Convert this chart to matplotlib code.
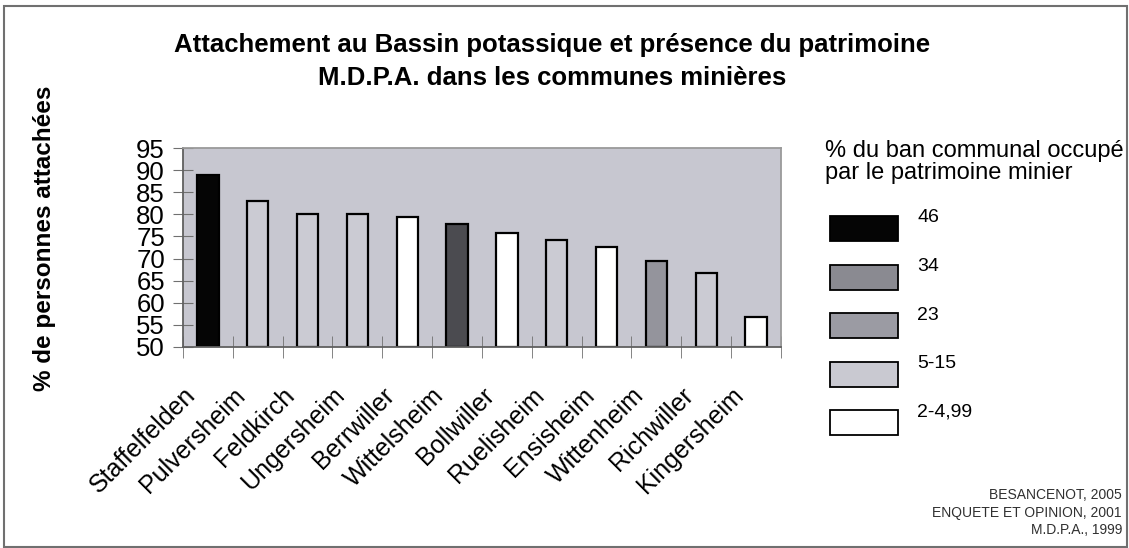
import numpy as np
import matplotlib.pyplot as plt
from matplotlib.patches import Rectangle
from matplotlib.transforms import ScaledTranslation

plt.rcParams['font.family'] = ['Liberation Sans', 'DejaVu Sans']

# communes et % de personnes attachées
communes = ['Staffelfelden', 'Pulversheim', 'Feldkirch', 'Ungersheim', 'Berrwiller',
            'Wittelsheim', 'Bollwiller', 'Ruelisheim', 'Ensisheim', 'Wittenheim',
            'Richwiller', 'Kingersheim']
attaches = [88.9, 83.1, 80.1, 80.1, 79.5, 77.8, 75.7, 74.2, 72.5, 69.5, 66.8, 56.7]

# classe de % du ban communal occupé par le patrimoine minier
classe = ['46', '5-15', '5-15', '5-15', '2-4,99', '34', '2-4,99', '5-15',
          '2-4,99', '23', '5-15', '2-4,99']
classes = ['46', '34', '23', '5-15', '2-4,99']
couleur_barre = {'46': '#050505', '34': '#4b4b50', '23': '#94949c',
                 '5-15': '#cbcbd3', '2-4,99': '#ffffff'}
couleur_legende = {'46': '#050505', '34': '#8a8a91', '23': '#9b9ba3',
                   '5-15': '#c9c9d1', '2-4,99': '#ffffff'}
sources = ['BESANCENOT, 2005', 'ENQUETE ET OPINION, 2001', 'M.D.P.A., 1999']

fig = plt.figure(figsize=(11.29, 5.48), dpi=100)
fig.patch.set_facecolor('white')

# cadre autour de la figure
fig.patches.append(Rectangle((4 / 1129, 1 / 548), 1123 / 1129, 541 / 548,
                             transform=fig.transFigure, fill=False,
                             edgecolor='#707070', linewidth=1.5))

ax = fig.add_axes([183 / 1129, 1 - 347 / 548, 598 / 1129, 199 / 548])
ax.set_facecolor('#c7c7d0')

x = np.arange(len(communes))
ax.bar(x, np.array(attaches) - 50, bottom=50, width=0.43,
       color=[couleur_barre[c] for c in classe], edgecolor='black', linewidth=1.6)

ax.set_xlim(-0.5, len(communes) - 0.5)
ax.set_ylim(50, 95)
ax.set_yticks(np.arange(50, 96, 5))
ax.tick_params(axis='y', labelsize=18.5, direction='inout', length=14,
               color='#707070', pad=6)
ax.set_xticks(x)
ax.set_xticklabels(communes, rotation=45, ha='right', va='top',
                   rotation_mode='anchor', fontsize=18)
ax.tick_params(axis='x', length=0, pad=8)
decalage = ScaledTranslation(-25 / 100, -25 / 100, fig.dpi_scale_trans)
for lab in ax.get_xticklabels():
    lab.set_transform(lab.get_transform() + decalage)
ax.set_xticks(np.arange(-0.5, len(communes)), minor=True)
ax.tick_params(axis='x', which='minor', direction='inout', length=16,
               color='#707070')
for s in ['left', 'bottom']:
    ax.spines[s].set_color('#606060')
    ax.spines[s].set_linewidth(1.3)
for s in ['top', 'right']:
    ax.spines[s].set_color('#9a9a9a')
    ax.spines[s].set_linewidth(1.3)

fig.text(0.489, 1 - 45 / 548, 'Attachement au Bassin potassique et présence du patrimoine',
         ha='center', va='center', fontsize=18.5, fontweight='bold')
fig.text(0.489, 1 - 78 / 548, 'M.D.P.A. dans les communes minières',
         ha='center', va='center', fontsize=18.5, fontweight='bold')
fig.text(45 / 1129, 1 - 238 / 548, '% de personnes attachées', rotation=90,
         ha='center', va='center', fontsize=17.5, fontweight='bold')

# légende
fig.text(825 / 1129, 1 - 162 / 548, '% du ban communal occupé\npar le patrimoine minier',
         ha='left', va='center', fontsize=17, linespacing=0.95)
for i, c in enumerate(classes):
    y0 = 216 + i * 48.5
    fig.patches.append(Rectangle((830 / 1129, 1 - (y0 + 25) / 548), 68 / 1129, 25 / 548,
                                 transform=fig.transFigure, facecolor=couleur_legende[c],
                                 edgecolor='black', linewidth=1.3))
    fig.text(917 / 1129, 1 - (y0 + 2) / 548, c, ha='left', va='center', fontsize=14)

for i, s in enumerate(sources):
    fig.text(1122 / 1129, 1 - (495 + i * 17.5) / 548, s, ha='right', va='center',
             fontsize=10, color='#303030')

fig.savefig('out.png', dpi=100)
